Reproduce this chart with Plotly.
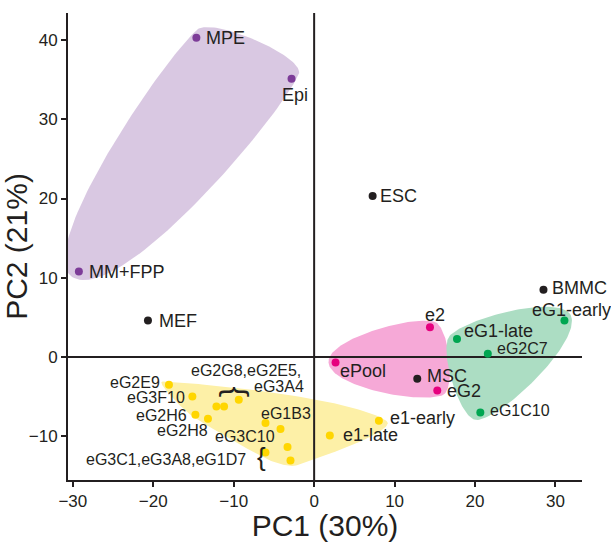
import numpy as np
import plotly.graph_objects as go

# ---------------- data ----------------
names = ["MPE", "Epi", "MM+FPP",
         "MEF", "ESC", "BMMC", "MSC",
         "e2", "ePool", "eG2",
         "eG1-early", "eG1-late", "eG2C7", "eG1C10",
         "e1-early", "e1-late", "eG2E9", "eG3F10", "eG2H6", "eG2H8", "eG2G8",
         "eG2E5", "eG3A4", "eG1B3", "eG3C10", "eG3C1", "eG3A8", "eG1D7"]
pc1 = [-14.64, -2.81, -29.25,
       -20.66, 7.27, 28.51, 12.82,
       14.40, 2.66, 15.31,
       31.12, 17.76, 21.59, 20.66,
       8.05, 1.95, -18.05, -15.14, -14.76, -13.20, -12.15,
       -11.20, -9.37, -6.05, -4.18, -6.05, -3.31, -2.94]
pc2 = [40.28, 35.11, 10.79,
       4.61, 20.33, 8.48, -2.74,
       3.78, -0.68, -4.21,
       4.61, 2.27, 0.42, -6.98,
       -8.03, -9.88, -3.49, -4.97, -7.27, -7.78, -6.23,
       -6.23, -5.38, -8.32, -9.07, -12.02, -11.34, -13.03]
group = (["purple"] * 3 + ["black"] * 4 + ["pink"] * 3 + ["green"] * 4 + ["yellow"] * 14)

x_ticks = [-30, -20, -10, 0, 10, 20, 30]
y_ticks = [-10, 0, 10, 20, 30, 40]
x_title = "PC1 (30%)"
y_title = "PC2 (21%)"

# ---------------- styles ----------------
W, H = 611, 542
ML, MR, MT, MB = 68, 29, 13, 62
XR = [-30.6, 33.3]
YR = [-15.5, 43.4]
INK = "#231F20"
point_col = {"purple": "#7D3C98", "black": INK, "pink": "#E6007E",
             "green": "#00A651", "yellow": "#FFD600"}
fill_col = {"purple": "#D9C8E2", "pink": "#F6A9D7", "green": "#ACDDC3",
            "yellow": "#FDF0A7"}
hull_groups = ["purple", "pink", "green", "yellow"]
# per-group outline style: (vertex padding px, edge bulge factor)
hull_style = {"purple": (8, 0.54), "pink": (7, 0.62), "green": (8, 0.6),
              "yellow": (7, 0.55)}

PW = W - ML - MR
PH = H - MT - MB

# label layout: name -> (dx px, dy px (down +), xanchor, font size)
label_layout = {
    "MPE": (8, 0, "left", 18), "Epi": (3, 16, "center", 18),
    "MM+FPP": (8, 0, "left", 18), "MEF": (9, 0, "left", 18),
    "ESC": (5, 0, "left", 18), "BMMC": (7, -2, "left", 18),
    "MSC": (8, -3, "left", 18), "e2": (5, -12, "center", 18),
    "ePool": (2, 8, "left", 18), "eG2": (8, 1, "left", 18),
    "eG1-early": (-34, -11, "left", 18), "eG1-late": (5, -8, "left", 18),
    "eG2C7": (7, -5, "left", 16), "eG1C10": (8, -2, "left", 16),
    "e1-early": (9, -3, "left", 18), "e1-late": (11, 0, "left", 18),
    "eG2E9": (-7, -2, "right", 16), "eG3F10": (-5, 1, "right", 16),
    "eG2H6": (-6, 1, "right", 16), "eG2H8": (2, 12, "right", 16),
    "eG1B3": (-6, -10, "left", 16), "eG3C10": (-4, 7, "right", 16),
}
# grouped labels: (anchor point name, text, dx, dy, xanchor, size, angle)
group_labels = [
    ("eG2G8", "eG2G8,eG2E5,", -27, -36, "left", 16, 0),
    ("eG3A4", "eG3A4", 13, -13, "left", 16, 0),
    ("eG2E5", "{", 13, -15, "center", 32, 90),
    ("eG3C1", "eG3C1,eG3A8,eG1D7", -17, 7, "right", 16, 0),
    ("eG3C1", "{", -4, 5, "center", 26, 0),
]


# ---------------- helpers ----------------
def to_npc(x, y):
    return ((np.asarray(x) - XR[0]) / (XR[1] - XR[0]),
            (np.asarray(y) - YR[0]) / (YR[1] - YR[0]))


def from_px(px, py):
    return (XR[0] + px / PW * (XR[1] - XR[0]), YR[0] + py / PH * (YR[1] - YR[0]))


def convex_hull(pts):
    pts = sorted(set(pts))
    if len(pts) <= 2:
        return pts

    def cross(o, a, b):
        return (a[0] - o[0]) * (b[1] - o[1]) - (a[1] - o[1]) * (b[0] - o[0])
    lower, upper = [], []
    for p in pts:
        while len(lower) >= 2 and cross(lower[-2], lower[-1], p) <= 0:
            lower.pop()
        lower.append(p)
    for p in reversed(pts):
        while len(upper) >= 2 and cross(upper[-2], upper[-1], p) <= 0:
            upper.pop()
        upper.append(p)
    return lower[:-1] + upper[:-1]


def unit(v):
    return v / np.linalg.norm(v)


def smooth_closed(P, c, steps=60):
    n = len(P)
    out = []
    for i in range(n):
        p0, p1, p2, p3 = P[(i - 1) % n], P[i], P[(i + 1) % n], P[(i + 2) % n]
        L = np.linalg.norm(p2 - p1)
        m1 = c * L * unit(p2 - p0)
        m2 = c * L * unit(p3 - p1)
        for t in np.linspace(0, 1, steps, endpoint=False):
            h00 = 2 * t**3 - 3 * t**2 + 1
            h10 = t**3 - 2 * t**2 + t
            h01 = -2 * t**3 + 3 * t**2
            h11 = t**3 - t**2
            out.append(h00 * p1 + h10 * m1 + h01 * p2 + h11 * m2)
    out.append(out[0])
    return np.array(out)


def encircle(xs, ys, pad, bulge):
    nx, ny = to_npc(xs, ys)
    hull = convex_hull(list(zip(nx.tolist(), ny.tolist())))
    hx = np.array([p[0] for p in hull])
    hy = np.array([p[1] for p in hull])
    cx, cy = hx.mean(), hy.mean()
    d = np.sqrt((hx - cx) ** 2 + (hy - cy) ** 2)
    px = hx * PW + (hx - cx) / d * pad
    py = hy * PH + (hy - cy) / d * pad
    curve = smooth_closed(np.column_stack([px, py]), bulge)
    return from_px(curve[:, 0], curve[:, 1])


fig = go.Figure()

# hulls
for g in hull_groups:
    xs = [pc1[i] for i in range(len(names)) if group[i] == g]
    ys = [pc2[i] for i in range(len(names)) if group[i] == g]
    hx, hy = encircle(xs, ys, *hull_style[g])
    fig.add_trace(go.Scatter(x=hx, y=hy, mode="lines", fill="toself",
                             fillcolor=fill_col[g], line=dict(width=0),
                             hoverinfo="skip", showlegend=False))

# crosshair lines at zero
fig.add_trace(go.Scatter(x=XR, y=[0, 0], mode="lines", line=dict(color=INK, width=2),
                         hoverinfo="skip", showlegend=False))
fig.add_trace(go.Scatter(x=[0, 0], y=YR, mode="lines", line=dict(color=INK, width=2),
                         hoverinfo="skip", showlegend=False))

# points
for g in ["purple", "black", "pink", "green", "yellow"]:
    idx = [i for i in range(len(names)) if group[i] == g]
    fig.add_trace(go.Scatter(x=[pc1[i] for i in idx], y=[pc2[i] for i in idx],
                             mode="markers", text=[names[i] for i in idx],
                             marker=dict(size=8, color=point_col[g]),
                             showlegend=False))

FONT = "Liberation Sans, Arial, sans-serif"
ann = []
for i, nm in enumerate(names):
    if nm in label_layout:
        dx, dy, xa, sz = label_layout[nm]
        ann.append(dict(x=pc1[i], y=pc2[i], text=nm, showarrow=False, xanchor=xa,
                        yanchor="middle", xshift=dx, yshift=-dy,
                        font=dict(family=FONT, size=sz, color=INK)))
for nm, txt, dx, dy, xa, sz, ang in group_labels:
    i = names.index(nm)
    ann.append(dict(x=pc1[i], y=pc2[i], text=txt, showarrow=False, xanchor=xa,
                    yanchor="middle", xshift=dx, yshift=-dy, textangle=ang,
                    font=dict(family=FONT, size=sz, color=INK)))

axis_common = dict(showline=True, linecolor=INK, linewidth=2, ticks="outside",
                   ticklen=5, tickwidth=2, tickcolor=INK, showgrid=False,
                   zeroline=False, mirror=False, automargin=False,
                   tickfont=dict(family=FONT, size=17, color=INK))
fig.update_layout(
    width=W, height=H, margin=dict(l=ML, r=MR, t=MT, b=MB),
    plot_bgcolor="white", paper_bgcolor="white", showlegend=False,
    annotations=ann,
    xaxis=dict(range=XR, tickvals=x_ticks, **axis_common,
               title=dict(text=x_title, font=dict(family=FONT, size=30, color=INK),
                          standoff=4)),
    yaxis=dict(range=YR, tickvals=y_ticks, **axis_common,
               title=dict(text=y_title, font=dict(family=FONT, size=30, color=INK),
                          standoff=4)),
)
fig.write_html("out.html")
